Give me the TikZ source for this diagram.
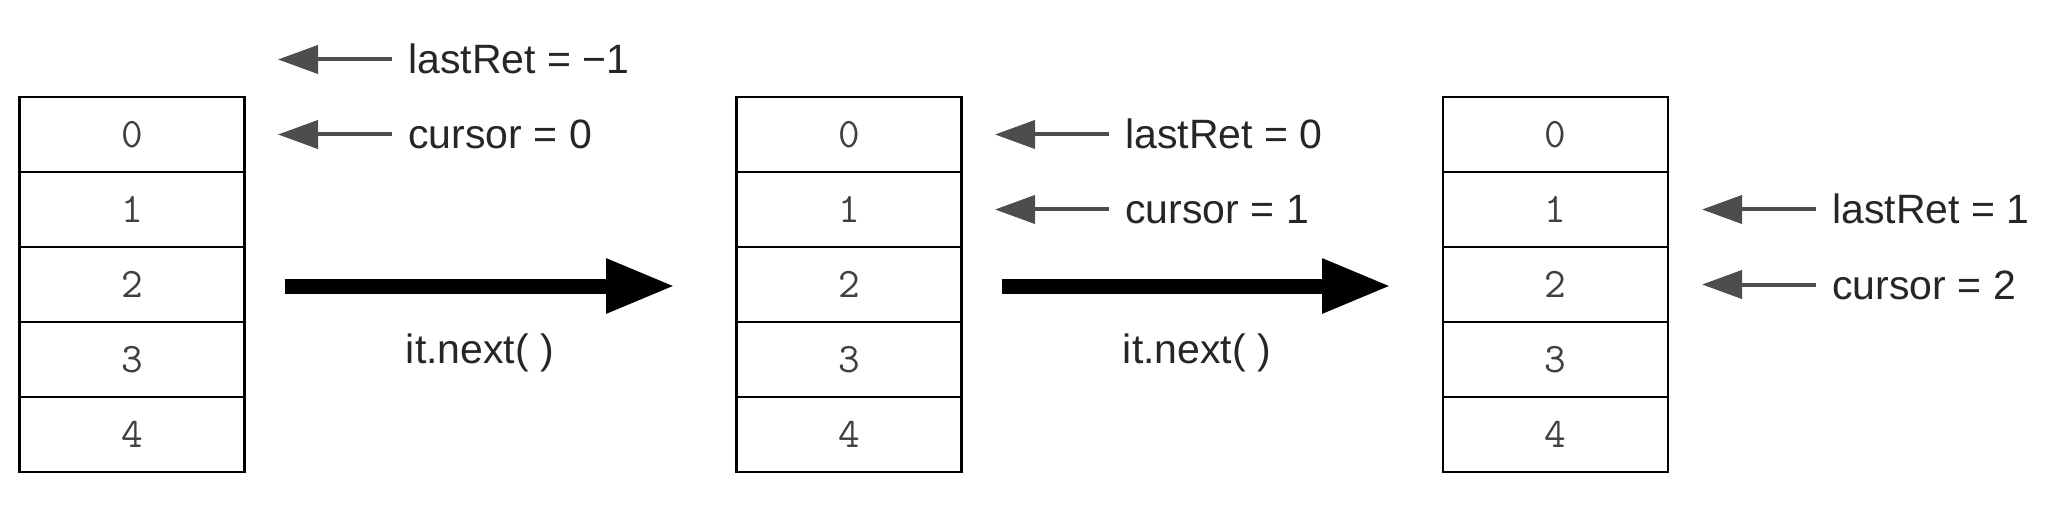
\documentclass[tikz,border=0pt]{standalone}
\usepackage{fontspec}
\setmainfont{Liberation Sans}
\usetikzlibrary{arrows.meta}
\definecolor{ptrgray}{HTML}{4D4D4D}
\tikzset{
  cell/.style={draw=black, line width=1.4pt, minimum width=112.5pt, minimum height=37.5pt,
    inner sep=0pt, font=\ttfamily\fontsize{21pt}{21pt}\selectfont, text height=13pt, text depth=0pt, text=black!75},
  lbl/.style={anchor=west, inner xsep=8pt, inner ysep=0pt, text height=14.5pt, text depth=0pt,
    font=\fontsize{20.5pt}{23pt}\selectfont, text=black!85},
  callname/.style={anchor=base, inner sep=0pt, font=\fontsize{20.5pt}{23pt}\selectfont, text=black!85},
  ptr/.style={draw=ptrgray, line width=2pt, -{Triangle[length=20pt,width=14pt]}},
  bigarrow/.style={draw=black, line width=7.5pt, -{Triangle[length=34.5pt,width=25.5pt]}}
}
\begin{document}
\begin{tikzpicture}[x=0.5pt,y=-0.5pt]
\useasboundingbox (0,0) rectangle (2048,529);
% cells
\foreach \b/\x in {1/132,2/849,3/1555.5}{
  \foreach \k in {0,...,4}{
    \node[cell] (b\b c\k) at (\x,{134.5+75*\k}) {\k};
  }
}
% pointer labels, box 1
\node[lbl] (lr1) at (392,59.5) {lastRet = −1};
\node[lbl] (cu1) at (392,134.5) {cursor = 0};
\coordinate (lr1t) at (278,59.5);
\coordinate (cu1t) at (278,134.5);
\draw[ptr] (lr1.west) -- (lr1t);
\draw[ptr] (cu1.west) -- (cu1t);
% box 2
\node[lbl] (lr2) at (1109,134.5) {lastRet = 0};
\node[lbl] (cu2) at (1109,209.5) {cursor = 1};
\coordinate (lr2t) at (995,134.5);
\coordinate (cu2t) at (995,209.5);
\draw[ptr] (lr2.west) -- (lr2t);
\draw[ptr] (cu2.west) -- (cu2t);
% box 3
\node[lbl] (lr3) at (1816,209.5) {lastRet = 1};
\node[lbl] (cu3) at (1816,284.5) {cursor = 2};
\coordinate (lr3t) at (1702,209.5);
\coordinate (cu3t) at (1702,284.5);
\draw[ptr] (lr3.west) -- (lr3t);
\draw[ptr] (cu3.west) -- (cu3t);
% transitions
\coordinate (s1) at (285,286);
\coordinate (e1) at (675,286);
\coordinate (s2) at (1002,286);
\coordinate (e2) at (1391,286);
\draw[bigarrow] (s1) -- (e1);
\draw[bigarrow] (s2) -- (e2);
\node[callname] (n1) at (480,363) {it.next( )};
\node[callname] (n2) at (1197,363) {it.next( )};
\end{tikzpicture}
\end{document}
